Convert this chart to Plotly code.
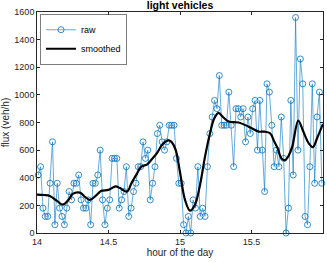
import plotly.graph_objects as go

# ---- data ----
minutes = list(range(120))  # one sample per minute, 14:00 - 16:00
raw_flux = [
    420, 480, 180, 120, 120, 360, 660, 60, 360, 180,
    120, 60, 180, 300, 240, 360, 360, 420, 240, 180,
    180, 240, 60, 360, 360, 420, 600, 240, 60, 180,
    240, 540, 540, 540, 180, 240, 300, 480, 120, 180,
    300, 360, 480, 480, 660, 540, 600, 240, 360, 480,
    720, 780, 660, 600, 660, 780, 780, 780, 540, 360,
    360, 60, 0, 120, 0, 240, 180, 480, 120, 180,
    120, 480, 720, 840, 960, 900, 1140, 780, 780, 780,
    1020, 780, 480, 900, 900, 840, 900, 660, 840, 720,
    900, 960, 600, 960, 600, 300, 1080, 1020, 780, 480,
    600, 480, 840, 540, 0, 180, 960, 420, 1560, 600,
    1260, 1080, 120, 60, 480, 1080, 360, 840, 1020, 360,
]
hours_raw = [14 + (m + 0.5) / 60 for m in minutes]

smooth_hours = [
    14.00, 14.05, 14.09, 14.14, 14.18, 14.22, 14.25, 14.30, 14.34, 14.37,
    14.41, 14.45, 14.50, 14.55, 14.58, 14.63, 14.66, 14.70, 14.73, 14.77,
    14.80, 14.84, 14.88, 14.92, 14.94, 14.97, 15.00, 15.035, 15.07, 15.105,
    15.14, 15.175, 15.21, 15.24, 15.27, 15.30, 15.34, 15.41, 15.48, 15.55,
    15.59, 15.63, 15.66, 15.68, 15.71, 15.735, 15.76, 15.785, 15.827, 15.86,
    15.90, 15.93, 15.96, 16.00,
]
smooth_flux = [
    278, 275, 268, 232, 205, 240, 283, 292, 258, 240,
    268, 305, 312, 338, 325, 300, 360, 432, 480, 497,
    530, 580, 645, 670, 660, 600, 440, 240, 162, 205,
    348, 553, 722, 830, 870, 840, 807, 800, 770, 734,
    734, 722, 660, 620, 540, 528, 560, 625, 814, 740,
    650, 622, 690, 790,
]

x_ticks = [14, 14.5, 15, 15.5, 16]
x_tick_labels = ["14", "14.5", "15", "15.5", "16"]
y_ticks = [0, 200, 400, 600, 800, 1000, 1200, 1400, 1600]

FONT = "Liberation Sans, Arial, sans-serif"
AX = "#262626"

fig = go.Figure()
fig.add_trace(go.Scatter(
    x=hours_raw, y=raw_flux, mode="lines+markers", name="raw",
    line=dict(color="#0072BD", width=0.6),
    marker=dict(symbol="circle-open", size=6, color="#0072BD",
                line=dict(width=0.8, color="#0072BD")),
    cliponaxis=False,
))
fig.add_trace(go.Scatter(
    x=smooth_hours, y=smooth_flux, mode="lines", name="smoothed",
    line=dict(color="black", width=2.2, shape="spline", smoothing=1.0),
))

fig.update_layout(
    width=327, height=263,
    margin=dict(l=37, r=4, t=12, b=30, autoexpand=False),
    paper_bgcolor="white", plot_bgcolor="white",
    font=dict(family=FONT, size=9, color=AX),
    title=dict(text="<b>light vehicles</b>", x=0.5, xref="paper",
               y=1 - 5.5 / 263, yref="container", yanchor="middle",
               font=dict(family=FONT, size=10.5, color="black")),
    showlegend=True,
    legend=dict(x=0.012, y=0.988, xanchor="left", yanchor="top",
                bgcolor="white", bordercolor=AX, borderwidth=0.6,
                font=dict(family=FONT, size=9, color="black"),
                itemwidth=30, tracegroupgap=0),
    xaxis=dict(range=[14, 16], tickvals=x_ticks, ticktext=x_tick_labels,
               ticks="inside", ticklen=3, tickcolor=AX, showline=True,
               linecolor=AX, linewidth=0.6, mirror="ticks", showgrid=False,
               zeroline=False, automargin=False,
               title=dict(text="hour of the day", standoff=3,
                          font=dict(family=FONT, size=10, color=AX))),
    yaxis=dict(range=[0, 1600], tickvals=y_ticks,
               ticks="inside", ticklen=3, tickcolor=AX, showline=True,
               linecolor=AX, linewidth=0.6, mirror="ticks", showgrid=False,
               zeroline=False, automargin=False,
               title=dict(text="flux (veh/h)", standoff=2,
                          font=dict(family=FONT, size=10, color=AX))),
)

fig.write_html(
    "out.html",
    config={"displayModeBar": False},
    post_script="document.body.style.margin='0';document.body.style.padding='0';",
)
